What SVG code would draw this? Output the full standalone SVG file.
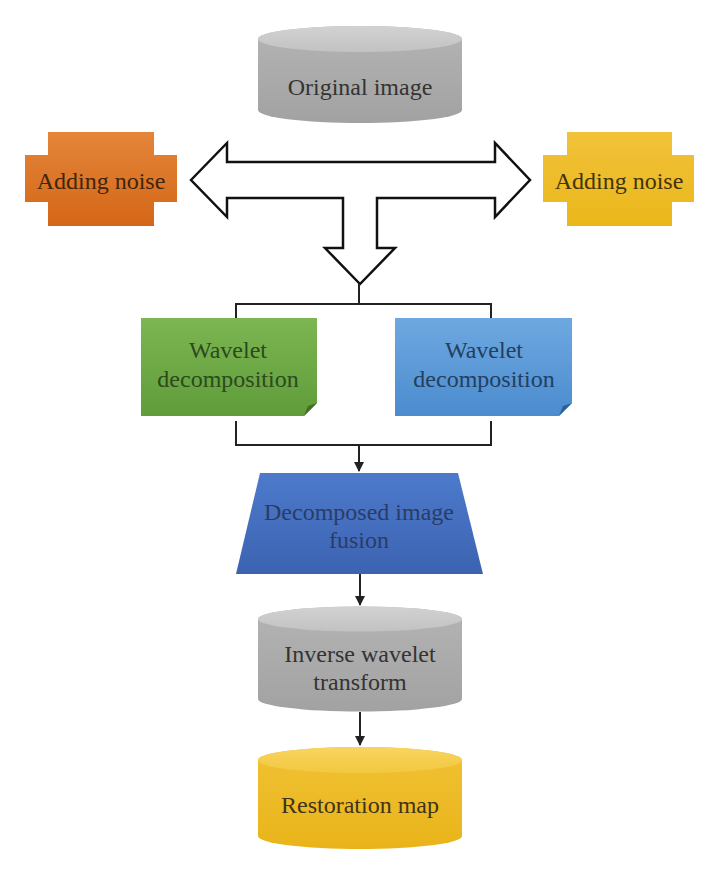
<svg xmlns="http://www.w3.org/2000/svg" width="720" height="876" viewBox="0 0 720 876">
<defs>
<linearGradient id="gGrey" x1="0" y1="0" x2="0" y2="1"><stop offset="0" stop-color="#b4b4b4"/><stop offset="1" stop-color="#a2a2a2"/></linearGradient>
<linearGradient id="gGreyTop" x1="0" y1="0" x2="0" y2="1"><stop offset="0" stop-color="#d2d2d2"/><stop offset="1" stop-color="#c2c2c2"/></linearGradient>
<linearGradient id="gOrange" x1="0" y1="0" x2="0" y2="1"><stop offset="0" stop-color="#e4853a"/><stop offset="1" stop-color="#d46716"/></linearGradient>
<linearGradient id="gYellow" x1="0" y1="0" x2="0" y2="1"><stop offset="0" stop-color="#f2c23a"/><stop offset="1" stop-color="#eab71a"/></linearGradient>
<linearGradient id="gGreen" x1="0" y1="0" x2="0" y2="1"><stop offset="0" stop-color="#7cb652"/><stop offset="1" stop-color="#5f9c3a"/></linearGradient>
<linearGradient id="gBlue" x1="0" y1="0" x2="0" y2="1"><stop offset="0" stop-color="#6ea8e0"/><stop offset="1" stop-color="#4b8ccf"/></linearGradient>
<linearGradient id="gTrap" x1="0" y1="0" x2="0" y2="1"><stop offset="0" stop-color="#4d7acb"/><stop offset="1" stop-color="#3c63b2"/></linearGradient>
<linearGradient id="gGold" x1="0" y1="0" x2="0" y2="1"><stop offset="0" stop-color="#f1c235"/><stop offset="1" stop-color="#e9b41a"/></linearGradient>
<linearGradient id="gGoldTop" x1="0" y1="0" x2="0" y2="1"><stop offset="0" stop-color="#f8d462"/><stop offset="1" stop-color="#f2c83e"/></linearGradient>
<marker id="ah" viewBox="0 0 10 10" refX="9" refY="5" markerWidth="5" markerHeight="5" orient="auto"><path d="M0,0 L10,5 L0,10 Z" fill="#222"/></marker>
</defs>
<style>
text{font-family:"Liberation Serif","DejaVu Serif",serif;font-size:24px;text-anchor:middle}
.conn{fill:none;stroke:#222;stroke-width:2}
.big{fill:#fff;stroke:#111;stroke-width:2.5;stroke-linejoin:miter}
</style>

<g id="connectors">
<polygon class="big" points="191,180 227,143 227,162 495,162 495,143 530,180 495,217 495,198 377,198 377,248 395,248 360,284 325,248 343,248 343,198 227,198 227,217"/>
<path class="conn" d="M359,284 V304 M236,318 V304 H491 V318"/>
<path class="conn" d="M236,421 V445 H491 V421"/>
<path class="conn" d="M359,445 V471" marker-end="url(#ah)"/>
<path class="conn" d="M360,574 V605" marker-end="url(#ah)"/>
<path class="conn" d="M360,712 V745" marker-end="url(#ah)"/>
</g>

<g id="original">
<path d="M258,39 A102,13 0 0 1 462,39 V110 A102,13 0 0 1 258,110 Z" fill="url(#gGrey)"/>
<ellipse cx="360" cy="39" rx="102" ry="13" fill="url(#gGreyTop)"/>
<text x="360" y="95" fill="#333">Original image</text>
</g>

<g id="noise-left">
<path d="M48,132 H154 V155 H177 V202 H154 V226 H48 V202 H25 V155 H48 Z" fill="url(#gOrange)"/>
<text x="101" y="189" fill="#40240e">Adding noise</text>
</g>

<g id="noise-right">
<path d="M567,132 H672 V155 H694 V202 H672 V226 H567 V202 H543 V155 H567 Z" fill="url(#gYellow)"/>
<text x="619" y="189" fill="#42330c">Adding noise</text>
</g>

<g id="wavelet-left">
<path d="M141,318 H317 V403 L304,416 H141 Z" fill="url(#gGreen)"/>
<path d="M317,403 L304,416 L308,406 Z" fill="#3f6e24"/>
<text x="228" y="358" fill="#2c4a1c">Wavelet</text>
<text x="228" y="387" fill="#2c4a1c">decomposition</text>
</g>

<g id="wavelet-right">
<path d="M395,318 H572 V403 L559,416 H395 Z" fill="url(#gBlue)"/>
<path d="M572,403 L559,416 L563,406 Z" fill="#2f5f95"/>
<text x="484" y="358" fill="#233f60">Wavelet</text>
<text x="484" y="387" fill="#233f60">decomposition</text>
</g>

<g id="fusion">
<polygon points="260,473 458,473 483,574 236,574" fill="url(#gTrap)"/>
<text x="359" y="520" fill="#2a3c66">Decomposed image</text>
<text x="359" y="548" fill="#2a3c66">fusion</text>
</g>

<g id="inverse">
<path d="M258,619 A102,12.5 0 0 1 462,619 V699 A102,12.5 0 0 1 258,699 Z" fill="url(#gGrey)"/>
<ellipse cx="360" cy="619" rx="102" ry="12.5" fill="url(#gGreyTop)"/>
<text x="360" y="662" fill="#333">Inverse wavelet</text>
<text x="360" y="690" fill="#333">transform</text>
</g>

<g id="restoration">
<path d="M258,760 A102,13 0 0 1 462,760 V836 A102,13 0 0 1 258,836 Z" fill="url(#gGold)"/>
<ellipse cx="360" cy="760" rx="102" ry="13" fill="url(#gGoldTop)"/>
<text x="360" y="813" fill="#3e3418">Restoration map</text>
</g>
</svg>
